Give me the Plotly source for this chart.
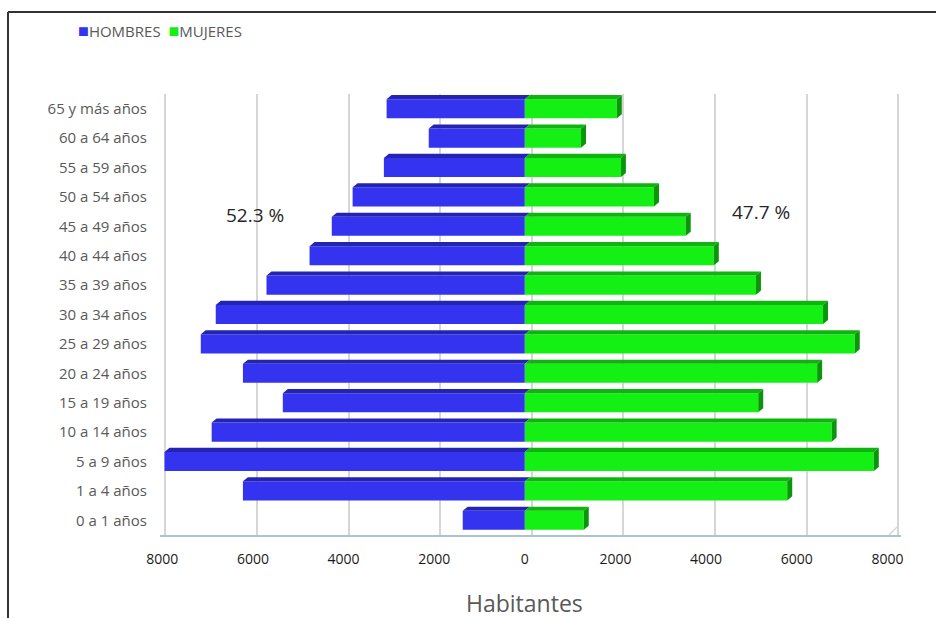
import plotly.graph_objects as go

# Population pyramid by age group
grupos = ["0 a 1 años", "1 a 4 años", "5 a 9 años", "10 a 14 años", "15 a 19 años",
          "20 a 24 años", "25 a 29 años", "30 a 34 años", "35 a 39 años", "40 a 44 años",
          "45 a 49 años", "50 a 54 años", "55 a 59 años", "60 a 64 años", "65 y más años"]
hombres = [1370, 6220, 7950, 6910, 5340, 6220, 7150, 6820, 5700, 4750, 4260, 3800, 3110, 2120, 3050]
mujeres = [1300, 5790, 7700, 6770, 5150, 6450, 7280, 6580, 5100, 4170, 3550, 2850, 2120, 1240, 2030]
tick_vals = [-8000, -6000, -4000, -2000, 0, 2000, 4000, 6000, 8000]
tick_text = ["8000", "6000", "4000", "2000", "0", "2000", "4000", "6000", "8000"]

C_H, C_H_TOP = "#3333f0", "#2424b4"
C_M, C_M_TOP, C_M_SIDE = "#14f014", "#0fb40f", "#0a960a"

W, H = 936, 618
L, R, T, B = 160, 35, 94, 83
X_RANGE = [-8050, 8300]
BAR_W = 0.65
DX, DY = 110, 0.14  # depth offset of the bar bevels (data units)

idx = list(range(len(grupos)))

fig = go.Figure()

# back-wall gridlines on an overlaid axis (slightly shifted scale for depth)
fig.add_trace(go.Scatter(x=[0], y=[0], mode="markers", marker=dict(opacity=0),
                         xaxis="x2", yaxis="y", showlegend=False, hoverinfo="skip"))

# bevel faces (top faces of both series, right side faces of the right series)
def top_faces(vals, sign):
    xs, ys = [], []
    for i, v in zip(idx, vals):
        yt = i + BAR_W / 2
        x0, x1 = (sign * v, 0) if sign < 0 else (0, v)
        xs += [x0, x1, x1 + DX, x0 + DX, x0, None]
        ys += [yt, yt, yt + DY, yt + DY, yt, None]
    return xs, ys

hx, hy = top_faces(hombres, -1)
mx, my = top_faces(mujeres, 1)
sx, sy = [], []
for i, v in zip(idx, mujeres):
    yb, yt = i - BAR_W / 2, i + BAR_W / 2
    sx += [v, v, v + DX, v + DX, v, None]
    sy += [yb, yt, yt + DY, yb + DY, yb, None]

for xs, ys, col in [(hx, hy, C_H_TOP), (mx, my, C_M_TOP), (sx, sy, C_M_SIDE)]:
    fig.add_trace(go.Scatter(x=xs, y=ys, mode="lines", fill="toself", fillcolor=col,
                             line=dict(width=0, color=col), hoverinfo="skip",
                             showlegend=False, xaxis="x", yaxis="y"))

fig.add_trace(go.Bar(y=idx, x=[-v for v in hombres], orientation="h", name="HOMBRES",
                     marker=dict(color=C_H, line=dict(width=0)), width=BAR_W,
                     customdata=hombres, hovertemplate="%{customdata}<extra>HOMBRES</extra>"))
fig.add_trace(go.Bar(y=idx, x=mujeres, orientation="h", name="MUJERES",
                     marker=dict(color=C_M, line=dict(width=0)), width=BAR_W,
                     hovertemplate="%{x}<extra>MUJERES</extra>"))

tot_h, tot_m = sum(hombres), sum(mujeres)
pct_h = 100 * tot_h / (tot_h + tot_m)
pct_m = 100 * tot_m / (tot_h + tot_m)

plot_w = W - L - R
plot_h = H - T - B

def px_x(p):
    return (p - L) / plot_w

def px_y(p):
    return (H - B - p) / plot_h

font = "'Open Sans', sans-serif"

annotations = [
    dict(x=-5950, y=px_y(215), xref="x", yref="paper", yanchor="middle",
         text=f"{pct_h:.1f} %", showarrow=False,
         font=dict(size=19, color="#262626", family=font)),
    dict(x=5200, y=px_y(212), xref="x", yref="paper", yanchor="middle",
         text=f"{pct_m:.1f} %", showarrow=False,
         font=dict(size=19, color="#262626", family=font)),
    dict(x=px_x(76), y=px_y(30), xref="paper", yref="paper", xanchor="left", yanchor="middle",
         text=(f"<span style='color:{C_H};font-size:18px'>■</span>HOMBRES  "
               f"<span style='color:{C_M};font-size:18px'>■</span>MUJERES"),
         showarrow=False, font=dict(size=15, color="#595959", family=font)),
    dict(x=0, y=px_y(603), xref="x", yref="paper", yanchor="middle", text="Habitantes",
         showarrow=False, font=dict(size=23, color="#595959", family=font)),
]

shapes = [
    # chart frame (top and left edges)
    dict(type="line", xref="paper", yref="paper", x0=px_x(8), x1=px_x(W + 5),
         y0=px_y(12), y1=px_y(12), line=dict(color="#333333", width=2)),
    dict(type="line", xref="paper", yref="paper", x0=px_x(8), x1=px_x(8),
         y0=px_y(12), y1=px_y(H + 5), line=dict(color="#333333", width=2)),
    # floor edge on the right
    dict(type="line", xref="paper", yref="paper", x0=px_x(889), x1=px_x(898),
         y0=px_y(535), y1=px_y(526), line=dict(color="#cfd8dc", width=1.5)),
]

fig.update_layout(
    width=W, height=H,
    margin=dict(l=L, r=R, t=T, b=B),
    paper_bgcolor="white", plot_bgcolor="white",
    barmode="overlay", showlegend=False,
    font=dict(family=font),
    xaxis=dict(range=X_RANGE, tickvals=tick_vals, ticktext=tick_text, showgrid=False,
               zeroline=False, showline=True, linecolor="#a9c4cf", linewidth=2,
               ticks="", ticklabelstandoff=10,
               tickfont=dict(size=14, color="#1a1a1a", family=font), fixedrange=True),
    xaxis2=dict(overlaying="x", range=[-8116, 8057], tickvals=tick_vals, showgrid=True,
                gridcolor="#d6d6d6", gridwidth=1.5, showticklabels=False, zeroline=False,
                showline=False, ticks="", layer="below traces"),
    yaxis=dict(range=[-0.5, 14.5], tickvals=idx, ticktext=grupos, showgrid=False,
               zeroline=False, showline=False, ticks="", ticklabelstandoff=12,
               tickfont=dict(size=15, color="#595959", family=font), fixedrange=True),
    annotations=annotations,
    shapes=shapes,
)

fig.write_html("out.html")
